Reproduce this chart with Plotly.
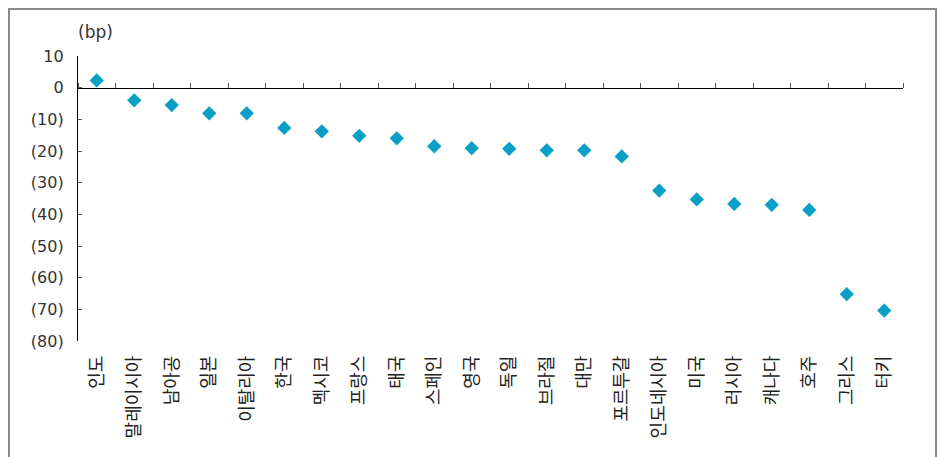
import plotly.graph_objects as go

countries = ["인도", "말레이시아", "남아공", "일본", "이탈리아", "한국", "멕시코", "프랑스",
             "태국", "스페인", "영국", "독일", "브라질", "대만", "포르투갈", "인도네시아",
             "미국", "러시아", "캐나다", "호주", "그리스", "터키"]
values = [2.3, -4.0, -5.5, -8.1, -8.1, -12.7, -13.8, -15.2, -16.0, -18.5, -19.1, -19.3,
          -19.8, -19.8, -21.7, -32.5, -35.3, -36.7, -37.0, -38.6, -65.2, -70.4]
y_ticks = [10, 0, -10, -20, -30, -40, -50, -60, -70, -80]
y_tick_text = ["10", "0", "(10)", "(20)", "(30)", "(40)", "(50)", "(60)", "(70)", "(80)"]
unit_label = "(bp)"

W, H = 939, 457
L, T = 78, 56
R = W - 903
B = H - 341
pw, ph = W - L - R, H - T - B
font_fam = "DejaVu Sans, Noto Sans CJK KR, sans-serif"
txt_col = "#333333"

fig = go.Figure()
fig.add_trace(go.Scatter(
    x=countries, y=values, mode="markers", xaxis="x", yaxis="y",
    marker=dict(symbol="diamond", size=11, color="#0A9FC6"),
    showlegend=False, cliponaxis=False))
# invisible trace to host the zero-line axis
fig.add_trace(go.Scatter(
    x=countries, y=values, mode="markers", xaxis="x2", yaxis="y",
    marker=dict(opacity=0), showlegend=False, hoverinfo="skip"))

ymin, ymax = -80, 10
zero_pos = (0 - ymin) / (ymax - ymin)

def fx(px):
    return (px - L) / pw

def fy(py):
    return (H - py - B) / ph

fig.update_layout(
    width=W, height=H,
    margin=dict(l=L, r=R, t=T, b=B),
    paper_bgcolor="white", plot_bgcolor="white",
    font=dict(family=font_fam, size=16, color=txt_col),
    xaxis=dict(type="category", categoryorder="array", categoryarray=countries,
               range=[-0.5, len(countries) - 0.5],
               showline=False, showgrid=False, zeroline=False, ticks="",
               tickangle=-90, tickfont=dict(size=18, color="#222222"),
               ticklabelstandoff=10),
    xaxis2=dict(type="category", categoryorder="array", categoryarray=countries,
                range=[-0.5, len(countries) - 0.5], overlaying="x",
                anchor="free", position=zero_pos, side="top",
                showline=True, linecolor="black", linewidth=1.3,
                ticks="outside", tickson="boundaries", ticklen=5,
                tickcolor="#555555", tickwidth=1,
                showticklabels=False, showgrid=False, zeroline=False),
    yaxis=dict(range=[ymin, ymax], tickvals=y_ticks, ticktext=y_tick_text,
               showline=True, linecolor="black", linewidth=1.3,
               ticks="inside", ticklen=4, tickcolor="#555555",
               showgrid=False, zeroline=False,
               tickfont=dict(size=16, color=txt_col), ticklabelstandoff=10),
    annotations=[dict(text=unit_label, xref="paper", yref="paper", x=0, y=1,
                      xanchor="left", yanchor="middle", xshift=-2, yshift=24,
                      showarrow=False, font=dict(size=17, color=txt_col))],
    shapes=[dict(type="rect", xref="paper", yref="paper",
                 x0=fx(9), x1=fx(936), y0=fy(480), y1=fy(9),
                 line=dict(color="#8a8a8a", width=2), fillcolor="rgba(0,0,0,0)",
                 layer="below")],
)

fig.write_html("out.html",
               config={"displayModeBar": False},
               post_script="document.body.style.margin='0';"
                           "document.body.style.overflow='hidden';")
